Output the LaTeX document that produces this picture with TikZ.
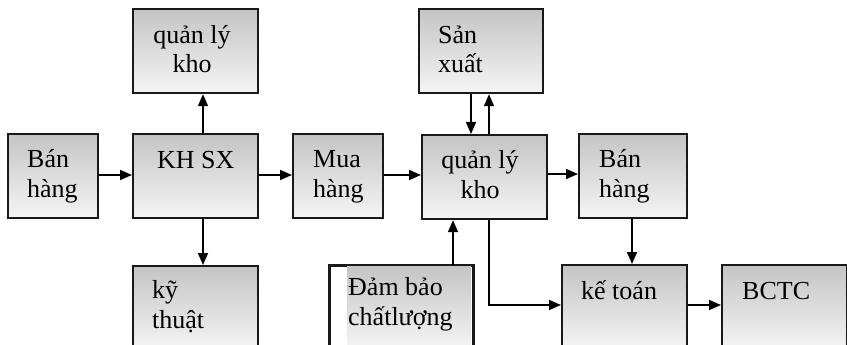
\documentclass[tikz,border=0pt]{standalone}
\usepackage{fontspec}
\setmainfont{Liberation Serif}
\usetikzlibrary{arrows.meta}
\begin{document}
\begin{tikzpicture}[x=1pt,y=-1pt,
  box/.style={draw=black!90, line width=2.2pt, anchor=north west, inner sep=0pt,
    top color=black!23, bottom color=black!4, minimum height=84pt},
  lbl/.style={inner sep=0pt, anchor=base west, align=left,
    font=\fontsize{26}{29.5}\selectfont},
  clbl/.style={lbl, anchor=base, align=center},
  arr/.style={line width=1.6pt, -{Triangle[length=12pt,width=10pt]}}]
\clip (0,0) rectangle (847,345);
\fill[white] (0,0) rectangle (847,345);

% boxes
\node[box, minimum width=90pt]  (banL)    at (7,133)   {};
\node[box, minimum width=125pt] (khsx)    at (132,133) {};
\node[box, minimum width=125pt] (qlkTop)  at (132,8)   {};
\node[box, minimum width=125pt] (kythuat) at (132,265) {};
\node[box, minimum width=90pt]  (mua)     at (292,133) {};
\node[box, minimum width=125pt] (qlk)     at (421,134) {};
\node[box, minimum width=124pt] (sanxuat) at (418,8)   {};
\node[box, minimum width=108pt] (banR)    at (578,133) {};
\node[box, minimum width=125pt] (ketoan)  at (561,264) {};
\node[box, minimum width=125pt] (bctc)    at (721,264) {};
% quality box: shading only on its right part
\node[draw=black!90, line width=2.2pt, fill=white, anchor=north west, inner sep=0pt,
  minimum width=143pt, minimum height=84pt] (dambao) at (329,265) {};
\shade[top color=black!23, bottom color=black!4] (347,266) rectangle (471,349);
\draw[black!90, line width=2.2pt] (dambao.north west) rectangle (dambao.south east);

% labels (multi-line labels sit on the baseline of their last line)
\node[lbl] (tbanL) at (27,197) {Bán\\hàng};
\node[lbl] (tkhsx) at (157,168) {KH SX};
\node[clbl] (tqlkTop) at (192,73) {quản lý\\kho};
\node[lbl] (tkythuat) at (152,328) {kỹ\\thuật};
\node[lbl] (tmua) at (313,197) {Mua\\hàng};
\node[clbl] (tqlk) at (480,198) {quản lý\\kho};
\node[lbl] (tsanxuat) at (438,73) {Sản\\xuất};
\node[lbl] (tdambao) at (348,325) {Đảm bảo\\chấtlượng};
\node[lbl] (tbanR) at (599,197) {Bán\\hàng};
\node[lbl] (tketoan) at (581,299) {kế toán};
\node[lbl] (tbctc) at (742,299) {BCTC};

% connectors
\draw[arr] (banL.east |- 0,175) -- (khsx.west |- 0,175);
\draw[arr] (khsx.north -| 203,0) -- (qlkTop.south -| 203,0);
\draw[arr] (khsx.south -| 203,0) -- (kythuat.north -| 203,0);
\draw[arr] (khsx.east |- 0,175) -- (mua.west |- 0,175);
\draw[arr] (mua.east |- 0,175) -- (qlk.west |- 0,175);
\draw[arr] (sanxuat.south -| 471,0) -- (qlk.north -| 471,0);
\draw[arr] (qlk.north -| 489,0) -- (sanxuat.south -| 489,0);
\draw[arr] (qlk.east |- 0,174) -- (banR.west |- 0,174);
\draw[arr] (dambao.north -| 453,0) -- (qlk.south -| 453,0);
\draw[arr] (qlk.south -| 489,0) |- (ketoan.west |- 0,305);
\draw[arr] (banR.south -| 632,0) -- (ketoan.north -| 632,0);
\draw[arr] (ketoan.east |- 0,305) -- (bctc.west |- 0,305);
\end{tikzpicture}
\end{document}
